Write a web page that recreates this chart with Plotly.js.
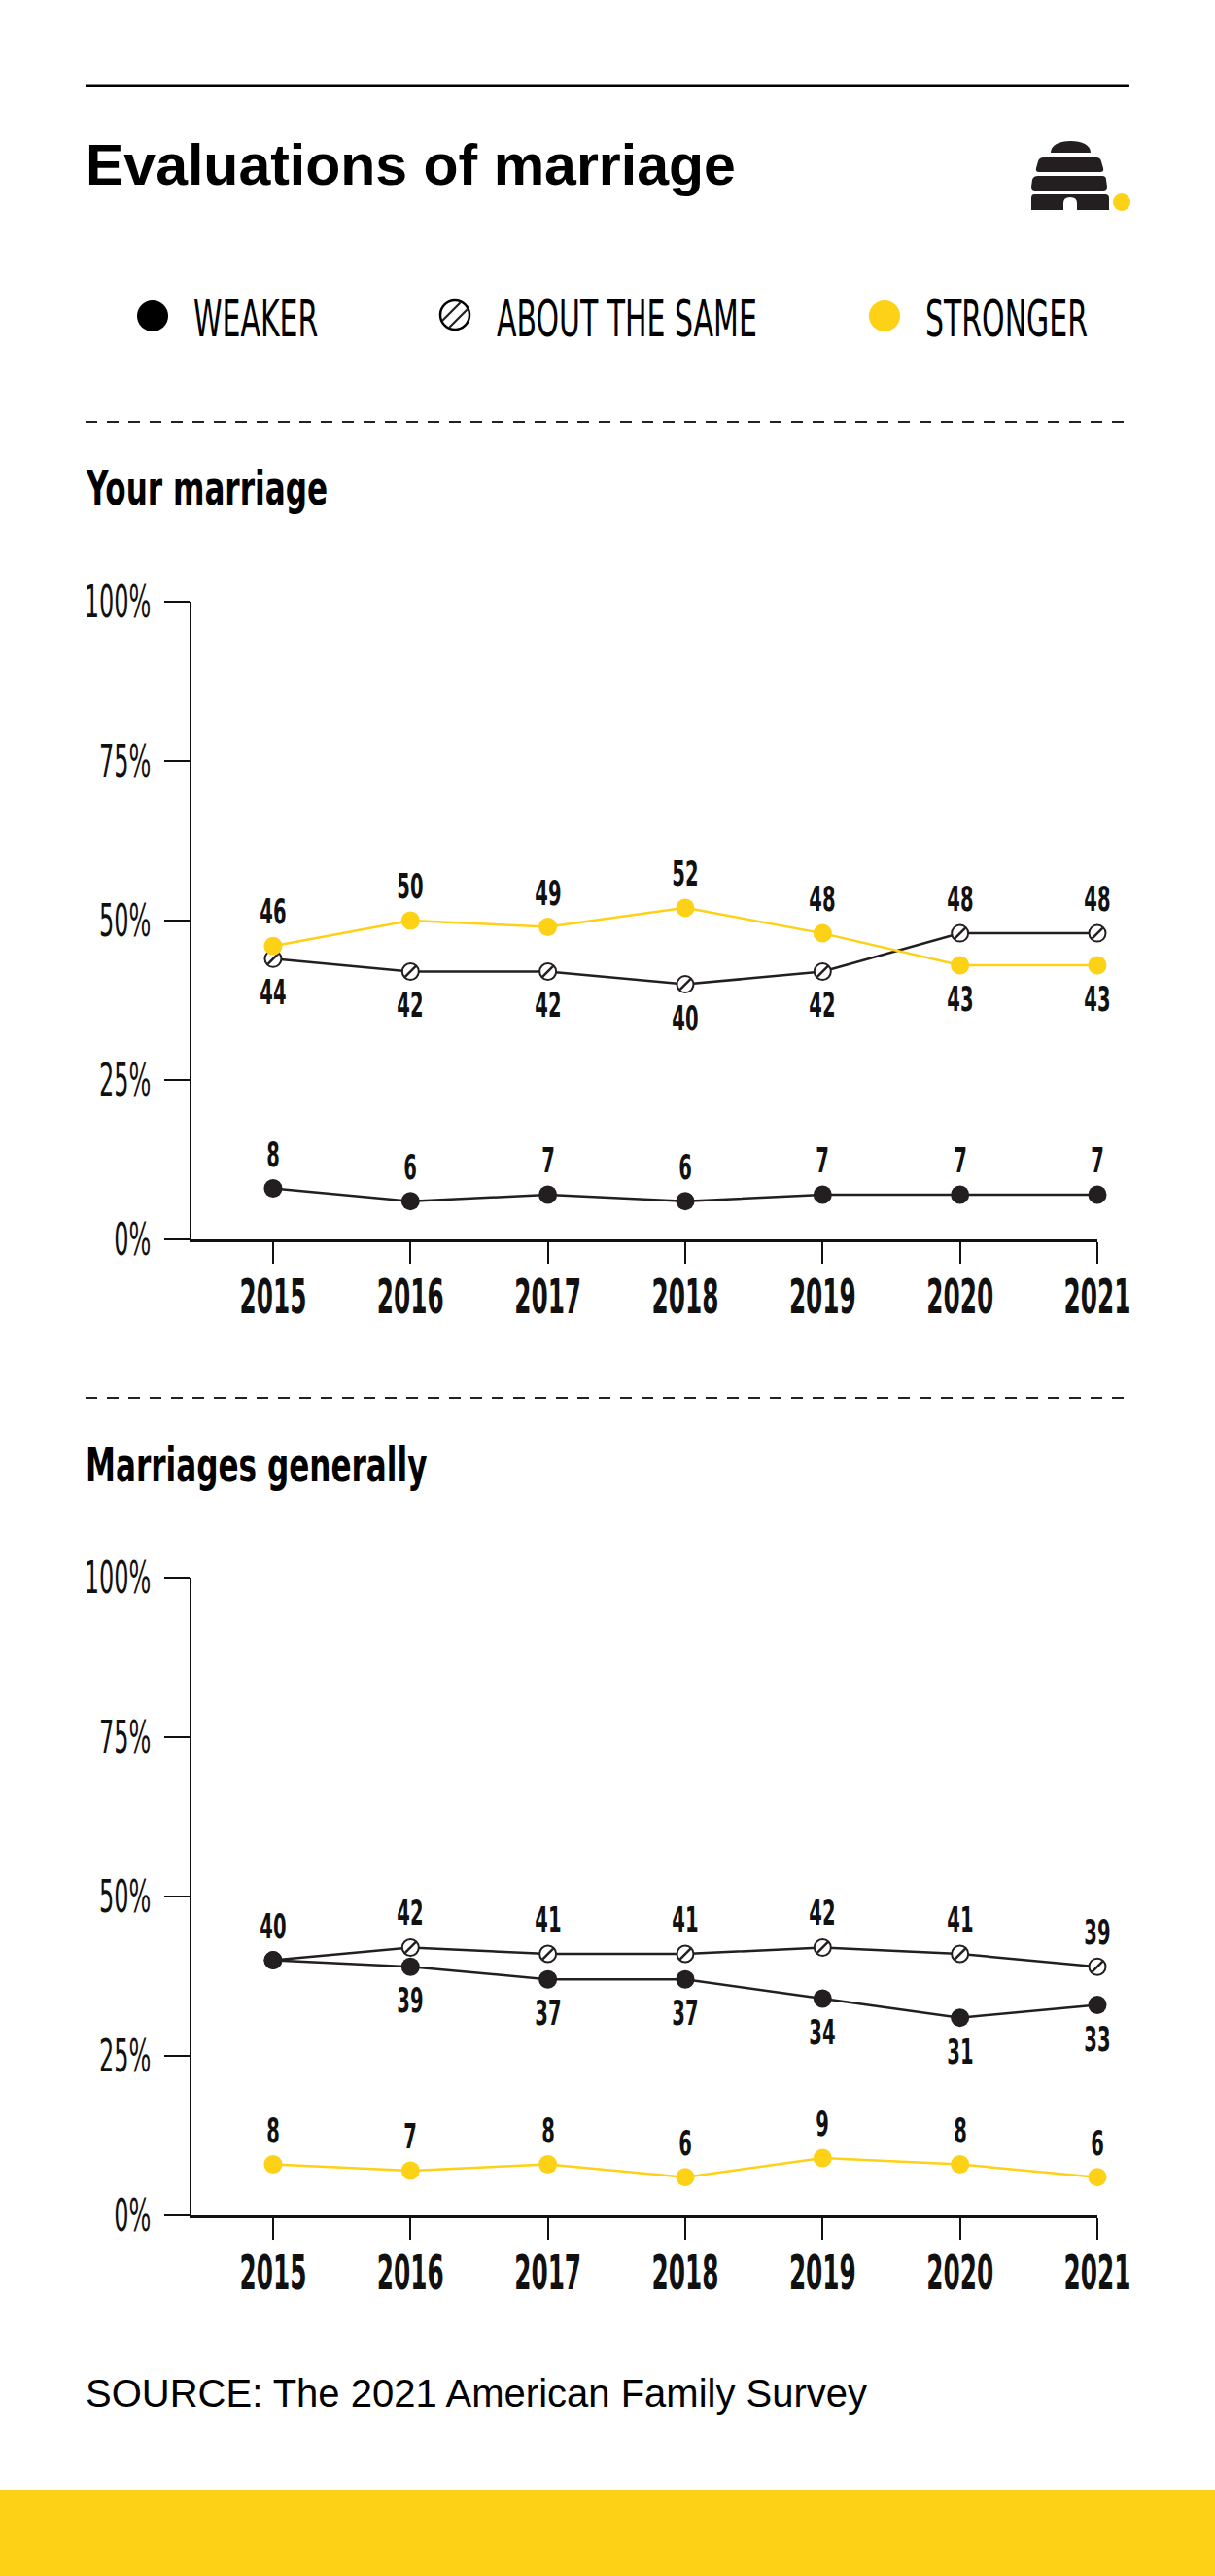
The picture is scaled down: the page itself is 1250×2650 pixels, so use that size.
<!DOCTYPE html>
<html>
<head>
<meta charset="utf-8">
<script src="https://cdn.plot.ly/plotly-3.0.1.min.js"></script>
<style>
  html, body { margin: 0; padding: 0; background: #ffffff; }
  #chart { width: 1250px; height: 2650px; }
</style>
</head>
<body>
<div id="chart"></div>
<script>
// ---------------- DATA ----------------
const years = [2015, 2016, 2017, 2018, 2019, 2020, 2021];
const seriesNames = ['WEAKER', 'ABOUT THE SAME', 'STRONGER'];
const yTickVals = [0, 25, 50, 75, 100];
const yTickText = ['0%', '25%', '50%', '75%', '100%'];

// Panel 1: Your marriage
const yourWeaker   = [8, 6, 7, 6, 7, 7, 7];
const yourSame     = [44, 42, 42, 40, 42, 48, 48];
const yourStronger = [46, 50, 49, 52, 48, 43, 43];

// Panel 2: Marriages generally
const genWeaker   = [40, 39, 37, 37, 34, 31, 33];
const genSame     = [40, 42, 41, 41, 42, 41, 39];
const genStronger = [8, 7, 8, 6, 9, 8, 6];

// label side for each point: 1 = above, -1 = below, 0 = no label
const yourWeakerSide   = [1, 1, 1, 1, 1, 1, 1];
const yourSameSide     = [-1, -1, -1, -1, -1, 1, 1];
const yourStrongerSide = [1, 1, 1, 1, 1, -1, -1];
const genWeakerSide    = [1, -1, -1, -1, -1, -1, -1];
const genSameSide      = [0, 1, 1, 1, 1, 1, 1];
const genStrongerSide  = [1, 1, 1, 1, 1, 1, 1];

const titleText = 'Evaluations of marriage';
const panelTitles = ['Your marriage', 'Marriages generally'];
const sourceText = 'SOURCE: The 2021 American Family Survey';

// ---------------- STYLE ----------------
const W = 1250, H = 2650;
const px = v => v / W;
const py = v => 1 - v / H;
const DARK = '#231f20';
const YELLOW = '#fdd116';
const NARROW = '"DejaVu Sans Condensed", "DejaVu Sans", sans-serif';
const SANS = '"Liberation Sans", Arial, sans-serif';

const xDomain = [px(197), px(1129)];
const xRange = [2014.406, 2021];
const panelYDomains = [[py(1275), py(619)], [py(2279), py(1623)]];

function xAxis(anchor) {
  return {
    domain: xDomain, range: xRange, anchor: anchor,
    tickvals: years, ticktext: years.map(String),
    ticks: 'outside', ticklen: 22, tickwidth: 2, tickcolor: '#111',
    showline: true, linewidth: 2.5, linecolor: '#111',
    showgrid: false, zeroline: false, fixedrange: true,
    ticklabelstandoff: -9,
    tickfont: { family: NARROW, size: 50, weight: 'bold', color: '#111' }
  };
}
function yAxis(anchor, dom) {
  return {
    domain: dom, range: [0, 100], anchor: anchor,
    tickvals: yTickVals, ticktext: yTickText,
    ticks: 'outside', ticklen: 26, tickwidth: 2, tickcolor: '#111',
    showline: true, linewidth: 2.5, linecolor: '#111',
    showgrid: false, zeroline: false, fixedrange: true,
    ticklabelstandoff: 4,
    tickfont: { family: NARROW, size: 46, color: '#111' }
  };
}

function panelTraces(xa, ya, weaker, same, stronger) {
  return [
    { x: years, y: same, xaxis: xa, yaxis: ya, type: 'scatter', mode: 'lines+markers',
      name: seriesNames[1], cliponaxis: false, hoverinfo: 'skip',
      line: { color: DARK, width: 2.5 },
      marker: { symbol: 'circle', size: 17, color: '#ffffff', line: { color: DARK, width: 2 } } },
    { x: years, y: same, xaxis: xa, yaxis: ya, type: 'scatter', mode: 'markers',
      name: seriesNames[1], cliponaxis: false, hoverinfo: 'skip', showlegend: false,
      marker: { symbol: 'line-ne', size: 11, color: DARK, line: { color: DARK, width: 2.5 } } },
    { x: years, y: weaker, xaxis: xa, yaxis: ya, type: 'scatter', mode: 'lines+markers',
      name: seriesNames[0], cliponaxis: false, hoverinfo: 'skip',
      line: { color: DARK, width: 2.5 },
      marker: { symbol: 'circle', size: 19, color: DARK } },
    { x: years, y: stronger, xaxis: xa, yaxis: ya, type: 'scatter', mode: 'lines+markers',
      name: seriesNames[2], cliponaxis: false, hoverinfo: 'skip',
      line: { color: YELLOW, width: 2.5 },
      marker: { symbol: 'circle', size: 19, color: YELLOW } }
  ];
}

function labelAnns(xa, ya, vals, sides) {
  const out = [];
  vals.forEach((v, i) => {
    if (!sides[i]) return;
    out.push({
      x: years[i], y: v, xref: xa, yref: ya, text: String(v), showarrow: false,
      xanchor: 'center', yanchor: 'middle', yshift: sides[i] * 35,
      font: { family: NARROW, size: 35, weight: 'bold', color: '#111' }
    });
  });
  return out;
}

const data = [
  ...panelTraces('x', 'y', yourWeaker, yourSame, yourStronger),
  ...panelTraces('x2', 'y2', genWeaker, genSame, genStronger)
];

function textAnn(text, x, y, font) {
  return { text: text, x: px(x), y: py(y), xref: 'paper', yref: 'paper', xanchor: 'left', yanchor: 'middle',
    align: 'left', showarrow: false, font: font };
}

const annotations = [
  textAnn(titleText, 86, 170, { family: SANS, size: 59, weight: 'bold', color: '#000' }),
  textAnn(seriesNames[0], 197, 328, { family: NARROW, size: 52, color: '#000' }),
  textAnn(seriesNames[1], 509, 328, { family: NARROW, size: 52, color: '#000' }),
  textAnn(seriesNames[2], 950, 328, { family: NARROW, size: 52, color: '#000' }),
  textAnn(panelTitles[0], 86, 502, { family: NARROW, size: 48, weight: 'bold', color: '#000' }),
  textAnn(panelTitles[1], 86, 1507, { family: NARROW, size: 48, weight: 'bold', color: '#000' }),
  textAnn(sourceText, 86, 2462, { family: SANS, size: 40, color: '#000' }),
  ...labelAnns('x', 'y', yourSame, yourSameSide),
  ...labelAnns('x', 'y', yourWeaker, yourWeakerSide),
  ...labelAnns('x', 'y', yourStronger, yourStrongerSide),
  ...labelAnns('x2', 'y2', genSame, genSameSide),
  ...labelAnns('x2', 'y2', genWeaker, genWeakerSide),
  ...labelAnns('x2', 'y2', genStronger, genStrongerSide)
];

function circle(cx, cy, r, fill, lineColor, lineWidth) {
  return { type: 'circle', xref: 'paper', yref: 'paper',
    x0: px(cx - r), x1: px(cx + r), y0: py(cy + r), y1: py(cy - r),
    fillcolor: fill, line: { color: lineColor || fill, width: lineWidth || 0 } };
}
function seg(x0, y0, x1, y1, color, width, dash) {
  return { type: 'line', xref: 'paper', yref: 'paper',
    x0: px(x0), y0: py(y0), x1: px(x1), y1: py(y1),
    line: { color: color, width: width, dash: dash || 'solid' } };
}
function chord(cx, cy, r, d) {
  const s = Math.SQRT1_2;
  const h = Math.sqrt(r * r - d * d);
  const mx = cx + d * s, my = cy + d * s;
  return seg(mx - h * s, my + h * s, mx + h * s, my - h * s, DARK, 2.2);
}

const shapes = [
  seg(88, 88, 1162, 88, '#000', 3),
  seg(88, 434, 1162, 434, '#222', 2, '12px,10px'),
  seg(88, 1438, 1162, 1438, '#222', 2, '12px,10px'),
  { type: 'rect', xref: 'paper', yref: 'paper', x0: 0, x1: 1, y0: 0, y1: py(2562),
    fillcolor: YELLOW, line: { width: 0 } },
  circle(157, 325, 16, '#000'),
  circle(468, 324, 15, '#ffffff', '#000', 2.5),
  chord(468, 324, 14, -5),
  chord(468, 324, 14, 5),
  circle(910, 325, 16, YELLOW)
];

// Logo (beehive) as an inline SVG image
const logoSvg =
  '<svg xmlns="http://www.w3.org/2000/svg" width="115" height="80" viewBox="0 0 115 80">' +
  '<g fill="' + DARK + '">' +
  '<path d="M26,17 C26,9 35,5 46.5,5 C58,5 67,9 67,17 Z"/>' +
  '<path d="M19,22 L73,22 Q77,22 78,26 L80,33 Q81,37 77,37 L14,37 Q10,37 11,33 L13,26 Q14,22 19,22 Z"/>' +
  '<path d="M13,41 L79,41 Q83,41 83,45 L84,52 Q84,56 80,56 L10,56 Q6,56 6,52 L7,45 Q8,41 13,41 Z"/>' +
  '<path d="M9,60 L82,60 Q86,60 86,64 L86,76 L53,76 L53,69 Q53,63 46,63 Q39,63 39,69 L39,76 L6,76 L6,64 Q6,60 9,60 Z"/>' +
  '</g>' +
  '<circle cx="99" cy="68" r="9" fill="' + YELLOW + '"/>' +
  '</svg>';
const logoSrc = 'data:image/svg+xml;base64,' + btoa(logoSvg);

const layout = {
  width: W, height: H,
  margin: { l: 0, r: 0, t: 0, b: 0, pad: 0 },
  paper_bgcolor: '#ffffff', plot_bgcolor: 'rgba(0,0,0,0)',
  showlegend: false,
  xaxis: xAxis('y'), yaxis: yAxis('x', panelYDomains[0]),
  xaxis2: xAxis('y2'), yaxis2: yAxis('x2', panelYDomains[1]),
  annotations: annotations,
  shapes: shapes,
  images: [{ source: logoSrc, xref: 'paper', yref: 'paper',
    x: px(1055), y: py(140), sizex: px(115), sizey: 80 / H,
    xanchor: 'left', yanchor: 'top', sizing: 'stretch', layer: 'above' }]
};

// The reference uses a very narrow display face; compress the condensed
// text horizontally with SVG textLength so the glyph widths match.
function fit(t, f) {
  const L = t.getComputedTextLength();
  if (!L) return;
  t.setAttribute('lengthAdjust', 'spacingAndGlyphs');
  t.setAttribute('textLength', (L * f).toFixed(1));
}
function squeeze(gd) {
  gd.querySelectorAll('.xaxislayer-above text').forEach(t => fit(t, 0.55));
  gd.querySelectorAll('.yaxislayer-above text').forEach(t => fit(t, 0.58));
  const factors = { '52px': 0.64, '48px': 0.72, '35px': 0.62 };
  gd.querySelectorAll('.annotation-text').forEach(t => {
    const f = factors[t.style.fontSize];
    if (f) fit(t, f);
  });
}

Plotly.newPlot('chart', data, layout, { displayModeBar: false, staticPlot: true }).then(squeeze);
</script>
</body>
</html>
